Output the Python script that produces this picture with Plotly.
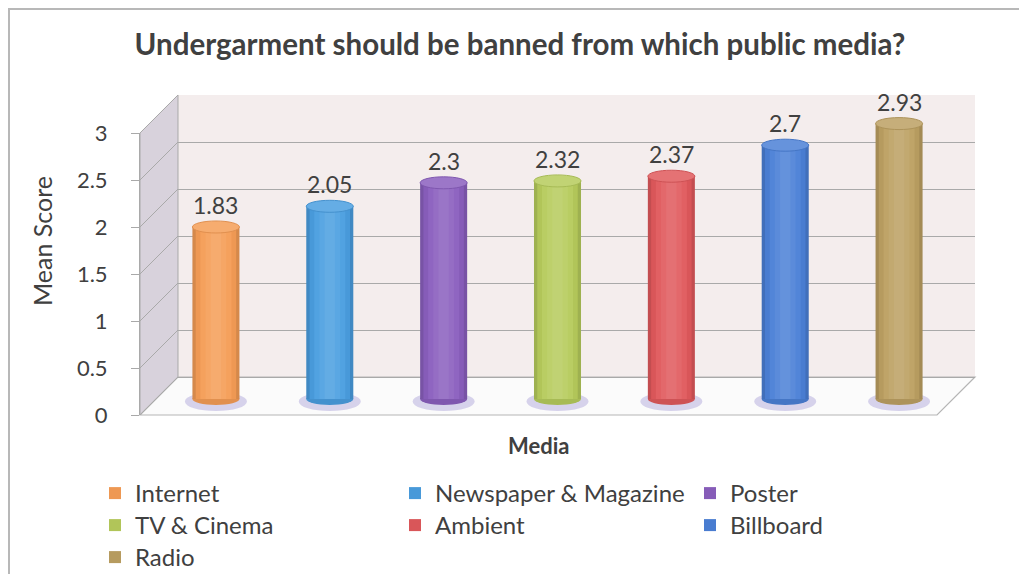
import plotly.graph_objects as go

# ---------------- data ----------------
categories = ["Internet", "Newspaper & Magazine", "Poster", "TV & Cinema",
              "Ambient", "Billboard", "Radio"]
mean_scores = [1.83, 2.05, 2.30, 2.32, 2.37, 2.70, 2.93]
value_labels = ["1.83", "2.05", "2.3", "2.32", "2.37", "2.7", "2.93"]
bar_colors = ["#F59D56", "#4A9EE0", "#8A5FBE", "#B6CB5C",
              "#E0595C", "#4B80D6", "#BCA062"]
y_tick_values = [0, 0.5, 1, 1.5, 2, 2.5, 3]
y_tick_labels = ["0", "0.5", "1", "1.5", "2", "2.5", "3"]

title_text = "Undergarment should be banned from which public media?"
x_title = "Media"
y_title = "Mean Score"

# ---------------- geometry / style ----------------
# the page body has an 8px margin, so the figure is drawn 8px in from the
# window's top-left corner; all layout pixel positions below are window pixels
OFF = 8
W, H = 1027 - OFF, 574 - OFF
FONT = "Lato"
TXT = "#404040"
GRID = "#a9a9a9"


def px(x):
    return (x - OFF) / W


def py(y):
    return 1 - (y - OFF) / H


PPU = 94.0            # pixels per unit on value axis
FRONT_X, FRONT_Y0 = 140, 415
DEPTH = 38
BACK_X0, BACK_X1, BACK_Y0 = FRONT_X + DEPTH, 975, FRONT_Y0 - DEPTH
FLOOR_FRONT_X1 = BACK_X1 - DEPTH
MID_X0, MID_X1, MID_Y0 = 159, 956, 399
YMAX = 3

BAR_W = 0.413
CAP_H = 6 / PPU

# legend grid (3 columns, rows filled left to right)
LEG_COLS = [95, 395, 690]
LEG_ROW_TOPS = [471, 503, 535]


def hex2rgb(c):
    c = c.lstrip("#")
    return [int(c[i:i + 2], 16) for i in (0, 2, 4)]


def mix(c, target, t):
    a = hex2rgb(c)
    b = hex2rgb(target)
    r = [round(a[i] + (b[i] - a[i]) * t) for i in range(3)]
    return "rgb(%d,%d,%d)" % tuple(r)


fig = go.Figure()

# empty traces so that the back-wall grid and the front value axis subplots
# are created
fig.add_trace(go.Scatter(x=[], y=[], xaxis="x", yaxis="y",
                         showlegend=False, hoverinfo="skip"))
fig.add_trace(go.Scatter(x=[], y=[], xaxis="x3", yaxis="y3",
                         showlegend=False, hoverinfo="skip"))

# layers for the cylinder shading (width fraction, colour transform)
layers = [(1.00, "#000000", 0.13), (0.86, "#000000", 0.03),
          (0.66, "#ffffff", 0.04), (0.44, "#ffffff", 0.09),
          (0.22, "#ffffff", 0.14)]


def legend_id(i):
    return "legend" if i == 0 else "legend%d" % (i + 1)


for i, (cat, v, col) in enumerate(zip(categories, mean_scores, bar_colors)):
    for k, (wf, tgt, t) in enumerate(layers):
        fig.add_trace(go.Bar(
            x=[i], y=[v], width=BAR_W * wf,
            marker=dict(color=mix(col, tgt, t), line=dict(width=0)),
            name=cat, legendgroup=cat, legend=legend_id(i),
            showlegend=(k == 1), xaxis="x2", yaxis="y2",
            hoverinfo="skip"))

shapes = []
# outer border
shapes.append(dict(type="rect", xref="paper", yref="paper",
                   x0=px(9), x1=px(1021), y0=py(600), y1=py(9),
                   line=dict(color="#b8b8b8", width=2), layer="below"))
# back wall
shapes.append(dict(type="rect", xref="paper", yref="paper",
                   x0=px(BACK_X0), x1=px(BACK_X1), y0=py(BACK_Y0),
                   y1=py(BACK_Y0 - YMAX * PPU),
                   fillcolor="#f4eded", line=dict(width=0), layer="below"))
# side wall
sw = "M %f,%f L %f,%f L %f,%f L %f,%f Z" % (
    px(FRONT_X), py(FRONT_Y0), px(FRONT_X), py(FRONT_Y0 - YMAX * PPU),
    px(BACK_X0), py(BACK_Y0 - YMAX * PPU), px(BACK_X0), py(BACK_Y0))
shapes.append(dict(type="path", xref="paper", yref="paper", path=sw,
                   fillcolor="#d8d2dc", line=dict(color=GRID, width=1),
                   layer="below"))
# floor
fl = "M %f,%f L %f,%f L %f,%f L %f,%f Z" % (
    px(FRONT_X), py(FRONT_Y0), px(BACK_X0), py(BACK_Y0),
    px(BACK_X1), py(BACK_Y0), px(FLOOR_FRONT_X1), py(FRONT_Y0))
shapes.append(dict(type="path", xref="paper", yref="paper", path=fl,
                   fillcolor="#fbfbfb", line=dict(color="#b5b5b5", width=1.2),
                   layer="below"))
# side-wall grid lines
for tv in y_tick_values:
    shapes.append(dict(type="line", xref="paper", yref="paper",
                       x0=px(FRONT_X), y0=py(FRONT_Y0 - tv * PPU),
                       x1=px(BACK_X0), y1=py(BACK_Y0 - tv * PPU),
                       line=dict(color=GRID, width=1), layer="below"))

# cylinder bases, shadows and caps
for i, (v, col) in enumerate(zip(mean_scores, bar_colors)):
    shapes.append(dict(type="circle", xref="x2", yref="y2",
                       x0=i - BAR_W * 0.66, x1=i + BAR_W * 0.66,
                       y0=-12 / PPU, y1=7 / PPU,
                       fillcolor="rgba(130,115,200,0.30)",
                       line=dict(width=0), layer="below"))
    shapes.append(dict(type="circle", xref="x2", yref="y2",
                       x0=i - BAR_W / 2, x1=i + BAR_W / 2,
                       y0=-CAP_H, y1=CAP_H,
                       fillcolor=mix(col, "#000000", 0.08),
                       line=dict(width=0), layer="below"))
    shapes.append(dict(type="circle", xref="x2", yref="y2",
                       x0=i - BAR_W / 2, x1=i + BAR_W / 2,
                       y0=v - CAP_H, y1=v + CAP_H,
                       fillcolor=mix(col, "#ffffff", 0.15),
                       line=dict(color=mix(col, "#000000", 0.08), width=1),
                       layer="above"))

annotations = []
for i, (v, lab) in enumerate(zip(mean_scores, value_labels)):
    annotations.append(dict(x=i, y=v, xref="x2", yref="y2", text=lab,
                            showarrow=False, yanchor="bottom", yshift=6,
                            font=dict(family=FONT, size=23, color=TXT)))
annotations.append(dict(x=px(42), y=py(241), xref="paper", yref="paper",
                        text=y_title, textangle=-90, showarrow=False,
                        xanchor="center", yanchor="middle",
                        font=dict(family=FONT, size=25, color=TXT)))
annotations.append(dict(x=px(538), y=py(445), xref="paper", yref="paper",
                        text="<b>" + x_title + "</b>", showarrow=False,
                        xanchor="center", yanchor="middle",
                        font=dict(family=FONT, size=22, color=TXT)))

legends = {}
for i in range(len(categories)):
    legends[legend_id(i)] = dict(
        x=px(LEG_COLS[i % 3]), y=py(LEG_ROW_TOPS[i // 3]),
        orientation="v", xanchor="left", yanchor="top",
        font=dict(family=FONT, size=24, color=TXT),
        bgcolor="rgba(0,0,0,0)")

fig.update_layout(
    width=W, height=H, template="none",
    margin=dict(l=0, r=0, t=0, b=0, autoexpand=False),
    paper_bgcolor="white", plot_bgcolor="rgba(0,0,0,0)",
    barmode="overlay", hovermode=False,
    title=dict(text="<b>" + title_text + "</b>", x=px(520), xanchor="center",
               y=py(45), yanchor="middle",
               font=dict(family=FONT, size=29.5, color=TXT)),
    # back wall grid
    xaxis=dict(domain=[px(BACK_X0), px(BACK_X1)], range=[0, 1],
               visible=False, fixedrange=True, anchor="y"),
    yaxis=dict(domain=[py(BACK_Y0), py(BACK_Y0 - YMAX * PPU)],
               range=[0, YMAX], tickvals=y_tick_values, showgrid=True,
               gridcolor=GRID, gridwidth=1, zeroline=True, zerolinecolor=GRID,
               zerolinewidth=1, showticklabels=False, ticks="",
               showline=False, anchor="x", fixedrange=True),
    # bars (mid-depth plane)
    xaxis2=dict(domain=[px(MID_X0), px(MID_X1)], range=[-0.5, 6.5],
                visible=False, anchor="y2", fixedrange=True),
    yaxis2=dict(domain=[py(MID_Y0 + 0.3 * PPU), py(MID_Y0 - 3.6 * PPU)],
                range=[-0.3, 3.6], visible=False, anchor="x2",
                fixedrange=True),
    # front value axis
    xaxis3=dict(domain=[px(FRONT_X), px(FLOOR_FRONT_X1)], range=[0, 1],
                visible=False, anchor="y3", fixedrange=True),
    yaxis3=dict(domain=[py(FRONT_Y0), py(FRONT_Y0 - YMAX * PPU)],
                range=[0, YMAX], tickvals=y_tick_values,
                ticktext=y_tick_labels, ticks="outside", ticklen=8,
                tickcolor=GRID, showline=True, linecolor=GRID, linewidth=1,
                showgrid=False, zeroline=False, anchor="x3",
                ticklabelstandoff=19,
                tickfont=dict(family=FONT, size=22, color=TXT),
                fixedrange=True),
    shapes=shapes, annotations=annotations,
    **legends,
)

fig.write_html("out.html")
